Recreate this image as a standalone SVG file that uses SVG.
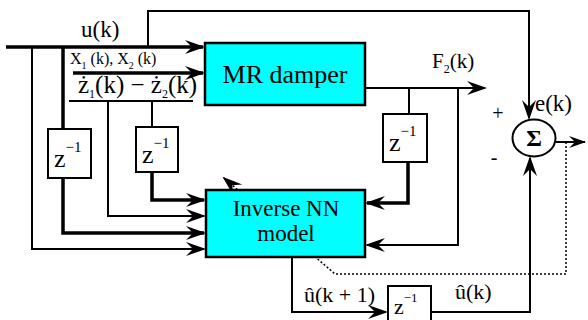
<svg xmlns="http://www.w3.org/2000/svg" width="588" height="320" viewBox="0 0 588 320">
<defs>
<marker id="ah" viewBox="-20 -8 24 16" markerWidth="24" markerHeight="16" refX="0" refY="0" orient="auto" markerUnits="userSpaceOnUse">
<path d="M2,0 L-18,-7 L-11,0 L-18,7 Z" fill="#000"/>
</marker>
<marker id="ahs" viewBox="-20 -8 24 16" markerWidth="24" markerHeight="16" refX="0" refY="0" orient="auto" markerUnits="userSpaceOnUse">
<path d="M1,0 L-16,-6 L-10,0 L-16,6 Z" fill="#000"/>
</marker>
</defs>
<style>
.blk{fill:#00ffff;stroke:#000;stroke-width:2.5}
.dly{fill:#fff;stroke:#000;stroke-width:2}
.w{fill:none;stroke:#000;stroke-width:2}
.t{fill:none;stroke:#000;stroke-width:3.5}
.dot{fill:none;stroke:#000;stroke-width:1.5;stroke-dasharray:2 2}
.z{font-size:26px}
.sup{font-size:15px}
</style>
<g id="connectors">
<path class="t" d="M6,47 H203" marker-end="url(#ah)"/>
<path class="w" d="M148,47 V11 H529 V118" marker-end="url(#ah)"/>
<path class="t" d="M73,73 H203" marker-end="url(#ah)"/>
<path class="w" d="M69,101 H193" stroke-width="1.5"/>
<path class="w" d="M32,47 V249 H204" marker-end="url(#ah)"/>
<path class="t" d="M63,47 V129"/>
<path class="t" d="M63,178 V233 H204" marker-end="url(#ah)"/>
<path class="w" d="M108,101 V216 H204" marker-end="url(#ah)"/>
<path class="w" d="M152,101 V127"/>
<path class="t" d="M152,172 V200 H204" stroke-width="3" marker-end="url(#ah)"/>
<path class="w" d="M365,88 H485" marker-end="url(#ah)"/>
<path class="w" d="M409,88 V114"/>
<path class="t" d="M408,162 V203 H367" stroke-width="3" marker-end="url(#ah)"/>
<path class="w" d="M458,88 V245 H367" stroke-width="2.5" marker-end="url(#ah)"/>
<path class="w" d="M292,257 V312 H386" marker-end="url(#ah)"/>
<path class="w" d="M431,312 H530 V158" marker-end="url(#ah)"/>
<path class="w" d="M556,142 H585" marker-end="url(#ahs)"/>
<path class="dot" d="M566,142 V274 H335 L224,178" marker-end="url(#ah)"/>
</g>
<g font-family="'Liberation Serif', 'DejaVu Serif', serif" fill="#000">
<g id="mr-damper">
<rect class="blk" x="205" y="43" width="160" height="62"/>
<text x="285" y="83" font-size="26" text-anchor="middle">MR damper</text>
</g>
<g id="inverse-nn">
<rect class="blk" x="206" y="190" width="159" height="67"/>
<text x="286" y="216" font-size="23" text-anchor="middle">Inverse NN</text>
<text x="286" y="241" font-size="23" text-anchor="middle">model</text>
</g>
<g id="delay1">
<rect class="dly" x="48" y="129" width="43" height="49"/>
<text x="54" y="167" class="z">z<tspan class="sup" dy="-15">−1</tspan></text>
</g>
<g id="delay2">
<rect class="dly" x="136" y="127" width="42" height="45"/>
<text x="142" y="163" class="z">z<tspan class="sup" dy="-15">−1</tspan></text>
</g>
<g id="delay3">
<rect class="dly" x="383" y="114" width="44" height="48"/>
<text x="389" y="151" class="z">z<tspan class="sup" dy="-15">−1</tspan></text>
</g>
<g id="delay4">
<rect class="dly" x="388" y="286" width="43" height="44"/>
<text x="394" y="314" font-size="22">z<tspan font-size="13" dy="-12">−1</tspan></text>
</g>
<g id="sum">
<ellipse cx="534" cy="138" rx="21.5" ry="18.5" fill="#fff" stroke="#000" stroke-width="2"/>
<text x="534" y="146" font-size="24" font-weight="bold" text-anchor="middle">Σ</text>
</g>
<g id="labels">
<text x="81" y="37" font-size="23">u(k)</text>
<text x="70" y="64" font-size="16">X<tspan font-size="10" dy="5">1</tspan><tspan dy="-5"> (k), X</tspan><tspan font-size="10" dy="5">2</tspan><tspan dy="-5"> (k)</tspan></text>
<text x="78" y="93" font-size="25">ż<tspan font-size="12" dy="5">1</tspan><tspan dy="-5">(k) − ż</tspan><tspan font-size="12" dy="5">2</tspan><tspan dy="-5">(k)</tspan></text>
<text x="432" y="68" font-size="21">F<tspan font-size="12" dy="5">2</tspan><tspan dy="-5">(k)</tspan></text>
<text x="535" y="111" font-size="23">e(k)</text>
<text x="498" y="120" font-size="20" text-anchor="middle">+</text>
<text x="494" y="164" font-size="20" text-anchor="middle">-</text>
<text x="304" y="302" font-size="22">û(k + 1)</text>
<text x="455" y="299" font-size="22">û(k)</text>
</g>
</g>
</svg>
